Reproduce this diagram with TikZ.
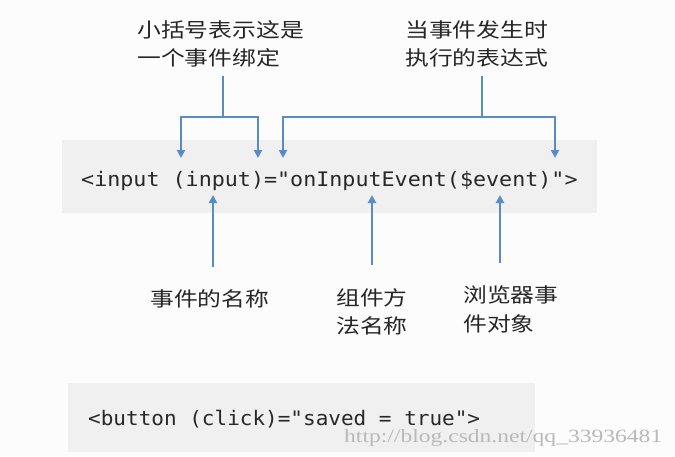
\documentclass[tikz,border=0pt]{standalone}
\usepackage{fontspec}
\usepackage{graphicx}
\setmonofont{DejaVu Sans Mono}
\newfontfamily\cjk{Noto Sans CJK SC}
\newfontfamily\wmfont{Liberation Serif}
\usetikzlibrary{arrows.meta}
\definecolor{arrowblue}{RGB}{88,140,200}
\definecolor{boxgray}{RGB}{240,240,240}
\definecolor{pagebg}{RGB}{252,252,252}
\definecolor{codecol}{RGB}{40,40,40}
\definecolor{wmgray}{RGB}{185,185,185}
\tikzset{
  conn/.style={draw=arrowblue, line width=2pt},
  arr/.style={conn, -{Triangle[length=8pt,width=8pt]}},
  lbl/.style={inner sep=0pt, font=\cjk\fontsize{20}{28}\selectfont, text=black!85, align=left},
  code/.style={inner sep=0pt, font=\ttfamily\fontsize{20}{24}\selectfont, text=codecol},
  codebox/.style={fill=boxgray, draw=none},
}
\begin{document}
\begin{tikzpicture}[x=1pt,y=-1pt]
\useasboundingbox (0,0) rectangle (675,456);
\fill[pagebg] (0,0) rectangle (675,456);
% code boxes
\path[codebox] (62,140) rectangle (597,213);
\path[codebox] (68,383) rectangle (535,452);
% code texts
\node[code, anchor=base west] (c1) at (81,186) {\scalebox{1.085}[1]{<input (input)="onInputEvent(\$event)">}};
\node[code, anchor=base west] (c2) at (88,425) {\scalebox{1.05}[1]{<button (click)="saved = true">}};
\node[inner sep=0pt, anchor=base west, text=wmgray] (wm) at (344,442) {\wmfont\resizebox{318pt}{13pt}{http://blog.csdn.net/qq\_33936481}};
% labels
\node[lbl, anchor=base west] (l1) at (137,37) {\scalebox{1.19}[1]{小括号表示这是}};
\node[lbl, anchor=base west] (l1b) at (137,65) {\scalebox{1.19}[1]{一个事件绑定}};
\node[lbl, anchor=base west] (l2) at (405,37) {\scalebox{1.19}[1]{当事件发生时}};
\node[lbl, anchor=base west] (l2b) at (405,65) {\scalebox{1.19}[1]{执行的表达式}};
\node[lbl, anchor=base west] (l3) at (150,306) {\scalebox{1.19}[1]{事件的名称}};
\node[lbl, anchor=base west] (l4) at (336,305) {\scalebox{1.19}[1]{组件方}};
\node[lbl, anchor=base west] (l4b) at (336,333) {\scalebox{1.19}[1]{法名称}};
\node[lbl, anchor=base west] (l5) at (463,302) {\scalebox{1.19}[1]{浏览器事}};
\node[lbl, anchor=base west] (l5b) at (463,331) {\scalebox{1.19}[1]{件对象}};
% coordinates
\coordinate (b1top) at (223,76);
\coordinate (b1mid) at (223,117);
\coordinate (b1l) at (181,117);
\coordinate (b1r) at (258,117);
\coordinate (b1lt) at (181,158);
\coordinate (b1rt) at (258,158);
\coordinate (b2top) at (482,76);
\coordinate (b2mid) at (482,117);
\coordinate (b2l) at (283,117);
\coordinate (b2r) at (555,117);
\coordinate (b2lt) at (283,158);
\coordinate (b2rt) at (555,158);
\coordinate (u1s) at (213,267);
\coordinate (u1t) at (213,195);
\coordinate (u2s) at (372,265);
\coordinate (u2t) at (372,195);
\coordinate (u3s) at (500,263);
\coordinate (u3t) at (500,195);
% brackets
\draw[conn] (b1top) -- (b1mid);
\draw[arr] (b1mid) -- (b1l) -- (b1lt);
\draw[arr] (b1mid) -- (b1r) -- (b1rt);
\draw[conn] (b2top) -- (b2mid);
\draw[arr] (b2mid) -- (b2l) -- (b2lt);
\draw[arr] (b2mid) -- (b2r) -- (b2rt);
% up arrows
\draw[arr] (u1s) -- (u1t);
\draw[arr] (u2s) -- (u2t);
\draw[arr] (u3s) -- (u3t);
\end{tikzpicture}
\end{document}
